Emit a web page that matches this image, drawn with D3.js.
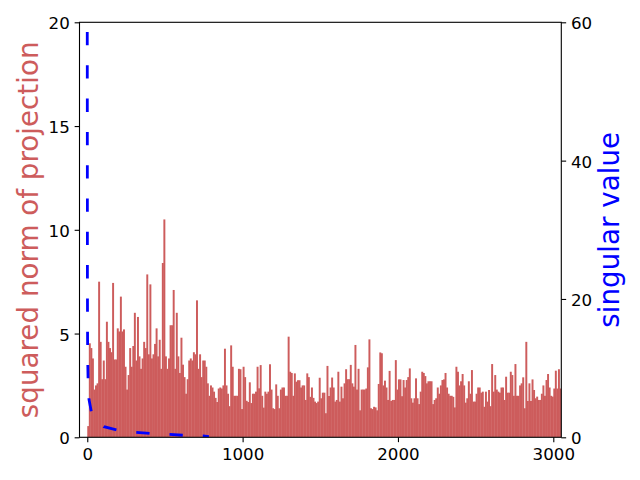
<!DOCTYPE html>
<html>
<head>
<meta charset="utf-8">
<script src="https://cdn.jsdelivr.net/npm/d3@7"></script>
<style>
  body { margin: 0; background: #fff; }
  svg text { font-family: 'DejaVu Sans', sans-serif; }
</style>
</head>
<body>
<svg id="chart" width="640" height="480"></svg>
<script>
// each value is the peak squared norm over a block of binSize components
const binSize = 10
const projNorms = [
  0.54, 4.53, 4.3, 3.8, 2.3, 2.5, 2.6, 7.5, 4.6, 2.8, 3.7, 2.8, 5.57, 4.6,
  4.3, 4.1, 7.44, 3.75, 3.75, 5.25, 5.1, 6.78, 5.1, 5.2, 3.4, 2.3, 3.0, 4.3, 3.4,
  4.4, 6.0, 3.7, 5.8, 3.9, 3.3, 3.8, 4.6, 4.3, 7.85, 4.0, 7.37, 3.8, 4.0,
  4.5, 5.25, 3.9, 4.7, 3.3, 8.4, 10.5, 3.9, 3.3, 3.8, 5.4, 5.4, 7.1, 3.3, 6.0, 3.9, 3.1, 4.8, 3.5, 2.9, 2.1,
  2.8, 3.7, 3.8, 3.7, 4.1, 4.0, 6.6, 3.3, 4.0, 2.9, 3.7, 3.7, 3.4, 2.6, 2.0, 2.5, 2.4, 2.2, 1.9, 1.7,
  2.35, 2.4, 2.35, 2.5, 4.27, 2.5, 2.1, 1.5, 4.43, 3.4, 2.0, 2.0, 2.0, 3.3,
  3.28, 1.36, 3.4, 2.9, 1.76, 1.7, 2.65, 1.65, 2.1, 2.1, 2.2, 3.4, 2.36, 3.48, 2.0, 1.43, 2.2, 2.1, 2.2,
  3.52, 2.3, 1.4, 1.36, 2.55, 2.0, 1.4, 2.3, 2.4, 2.4, 2.0, 2.0, 4.85, 3.16, 3.1, 2.0, 3.08, 2.68, 2.75,
  2.75, 2.4, 2.5, 2.5, 1.8, 3.08, 2.9, 1.95, 2.4, 1.9, 1.72, 1.65, 1.72,
  2.87, 1.88, 2.15, 2.15, 1.16, 3.44, 1.99, 2.4, 2.88, 2.4, 1.72, 1.8, 3.16, 1.72, 2.44, 1.88, 2.6, 3.28,
  2.8, 2.8, 3.49, 2.6, 2.44, 4.45, 2.3, 3.3, 1.3, 2.3, 2.3, 2.3, 2.35, 3.37, 4.72, 1.4, 1.36, 1.47, 1.44,
  1.3, 2.57, 4.09, 4.05, 2.5, 2.73, 2.4, 1.8, 3.2, 1.75, 1.8, 1.8, 3.72, 2.3, 2.79,
  2.79, 1.98, 2.76, 2.4, 2.76, 2.9, 3.32, 1.88, 1.67, 1.88, 2.84, 1.88, 1.6, 2.2, 3.16, 3.1, 2.95, 2.6,
  2.7, 2.7, 2.7, 1.6, 1.8, 1.88, 2.4, 2.1, 2.5, 2.76, 2.79, 3.1, 2.4, 2.1, 2.0, 2.0, 1.95, 1.44, 3.4,
  3.16, 2.5, 2.7, 3.05, 2.5, 1.67, 1.88, 2.7, 2.1, 3.24, 1.72, 1.72, 2.1, 2.4, 2.4,
  2.15, 2.2, 1.47, 2.2, 1.72, 2.28, 1.5, 3.53, 2.2, 3.0, 2.3, 2.2, 2.15, 2.4, 2.4, 1.8, 2.92, 2.15,
  2.15, 3.16, 3.0, 2.0, 3.53, 2.0, 2.0, 2.5, 2.6, 2.89, 1.4, 4.6, 1.75, 2.6, 1.75, 2.79, 2.28, 1.88,
  1.96, 1.8, 1.8, 2.1, 2.5, 2.0, 2.76, 3.05, 2.4, 2.0, 1.96, 2.35, 3.21, 2.35, 3.28, 2.35,
]
const svIndex = [0, 1, 2, 3, 5, 11, 26, 50, 107, 189, 315, 402, 530, 618, 745, 783]
const svValues = [58.6, 22, 14, 11, 8.6, 5.5, 3.7, 2.6, 1.53, 1.06, 0.72, 0.58, 0.43, 0.29, 0.19, 0.08]
const xTicks = [0, 1000, 2000, 3000]
const leftTicks = [0, 5, 10, 15, 20]
const rightTicks = [0, 20, 40, 60]

const barColor = 'indianred'
const lineColor = 'blue'
const box = { left: 79.5, right: 561.3, top: 22.3, bottom: 437.3 }

const svg = d3.select('#chart')
const x = d3.scaleLinear().domain([-50, 3051.5]).range([box.left, box.right])
const yL = d3.scaleLinear().domain([0, 20]).range([box.bottom, box.top])
const yR = d3.scaleLinear().domain([0, 60]).range([box.bottom, box.top])

svg.append('clipPath').attr('id', 'plot')
  .append('rect')
  .attr('x', box.left).attr('y', box.top)
  .attr('width', box.right - box.left).attr('height', box.bottom - box.top)

// a little overlap so neighbouring blocks don't leave hairline seams
svg.append('g')
  .attr('clip-path', 'url(#plot)')
  .selectAll('rect')
  .data(projNorms)
  .join('rect')
  .attr('x', (d, i) => x(i * binSize))
  .attr('width', x(binSize) - x(0) + 0.4)
  .attr('y', (d) => yL(d))
  .attr('height', (d) => yL(0) - yL(d))
  .attr('fill', barColor)

const svLine = d3.line()
  .x((d, i) => x(svIndex[i]))
  .y((d) => yR(d))

svg.append('path')
  .datum(svValues)
  .attr('clip-path', 'url(#plot)')
  .attr('d', svLine)
  .attr('fill', 'none')
  .attr('stroke', lineColor)
  .attr('stroke-width', 2.8)
  .attr('stroke-dasharray', '13.3 20')

const tick = 4.86
const fontSize = '16.67px'
const styleAxis = (g, dy) => {
  g.select('.domain').remove()
  g.selectAll('line').attr('stroke', '#000').attr('stroke-width', 1.1)
  g.selectAll('text').attr('font-size', fontSize).attr('fill', '#000').attr('dy', dy)
}
const plain = d3.format('d')

svg.append('g')
  .attr('transform', `translate(0,${box.bottom})`)
  .call(d3.axisBottom(x).tickValues(xTicks).tickFormat(plain)
    .tickSize(tick).tickPadding(tick).tickSizeOuter(0))
  .call((g) => styleAxis(g, '0.78em'))

svg.append('g')
  .attr('transform', `translate(${box.left},0)`)
  .call(d3.axisLeft(yL).tickValues(leftTicks).tickFormat(plain)
    .tickSize(tick).tickPadding(tick).tickSizeOuter(0))
  .call((g) => styleAxis(g, '0.4em'))

svg.append('g')
  .attr('transform', `translate(${box.right},0)`)
  .call(d3.axisRight(yR).tickValues(rightTicks).tickFormat(plain)
    .tickSize(tick).tickPadding(tick).tickSizeOuter(0))
  .call((g) => styleAxis(g, '0.4em'))

svg.append('rect')
  .attr('x', box.left).attr('y', box.top)
  .attr('width', box.right - box.left).attr('height', box.bottom - box.top)
  .attr('fill', 'none')
  .attr('stroke', '#000')
  .attr('stroke-width', 1.1)

const midY = (box.top + box.bottom) / 2
svg.append('text')
  .attr('transform', `translate(37.5,${midY}) rotate(-90)`)
  .attr('text-anchor', 'middle')
  .attr('font-size', '27.78px')
  .attr('fill', barColor)
  .text('squared norm of projection')

svg.append('text')
  .attr('transform', `translate(619,${midY}) rotate(-90)`)
  .attr('text-anchor', 'middle')
  .attr('font-size', '27.78px')
  .attr('fill', lineColor)
  .text('singular value')
</script>
</body>
</html>
